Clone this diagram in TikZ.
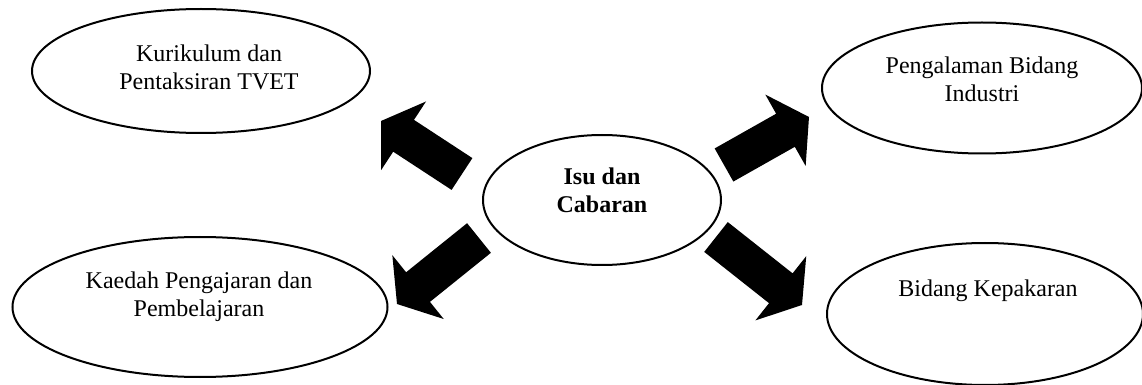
\documentclass[tikz,border=0pt]{standalone}
\usepackage{fontspec}
\setmainfont{Liberation Serif}
\usetikzlibrary{shapes.geometric,calc}
\tikzset{
  oval/.style={ellipse,draw=black,line width=1pt,fill=white,inner sep=0pt},
  lbl/.style={anchor=base,align=center,inner sep=0pt,font=\fontsize{12}{14}\selectfont},
}
\newcommand\blockarr[2]{%
  \path ($(#2)!13.5pt!(#1)$) coordinate (hb);
  \fill[black] ($(#1)!9.5pt!90:(#2)$) -- ($(hb)!9.5pt!90:(#2)$) -- ($(hb)!20.5pt!90:(#2)$) -- (#2)
     -- ($(hb)!20.5pt!-90:(#2)$) -- ($(hb)!9.5pt!-90:(#2)$) -- ($(#1)!9.5pt!-90:(#2)$) -- cycle;}
\begin{document}
\begin{tikzpicture}[x=0.5pt,y=-0.5pt]
\useasboundingbox (0,0) rectangle (1142,385);
% ellipses
\node[oval,minimum width=169pt,minimum height=62pt] (kur) at (201,71) {};
\node[oval,minimum width=160pt,minimum height=65.5pt] (ind) at (982,88) {};
\node[oval,minimum width=187.5pt,minimum height=70pt] (kae) at (200,307) {};
\node[oval,minimum width=158pt,minimum height=71pt] (kep) at (985,314) {};
\node[oval,minimum width=119pt,minimum height=65pt] (isu) at (602,200) {};
% texts (base anchor = baseline of the last line)
\node[lbl] (kurT) at (209,90) {Kurikulum dan\\Pentaksiran TVET};
\node[lbl] (indT) at (982,102) {Pengalaman Bidang\\Industri};
\node[lbl] (kaeT) at (199,316) {Kaedah Pengajaran dan\\Pembelajaran};
\node[lbl] (kepT) at (988,296) {Bidang Kepakaran};
\node[lbl,font=\fontsize{12}{14}\selectfont\bfseries] (isuT) at (602,213) {Isu dan\\Cabaran};
% arrows
\coordinate (a1t) at (462,174); \coordinate (a1h) at (381,121);
\coordinate (a2t) at (724,165); \coordinate (a2h) at (809,117);
\coordinate (a3t) at (479,238); \coordinate (a3h) at (397,304);
\coordinate (a4t) at (716,237); \coordinate (a4h) at (802,305);
\blockarr{a1t}{a1h}
\blockarr{a2t}{a2h}
\blockarr{a3t}{a3h}
\blockarr{a4t}{a4h}
\end{tikzpicture}
\end{document}
